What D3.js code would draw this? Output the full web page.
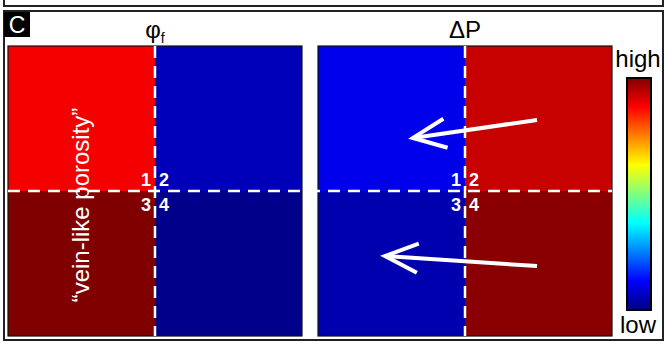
<!DOCTYPE html>
<html>
<head>
<meta charset="utf-8">
<script src="https://cdn.jsdelivr.net/npm/d3@7"></script>
<style>
  body { margin: 0; background: #fff; }
  text { font-family: "Liberation Sans", Arial, sans-serif; }
</style>
</head>
<body>
<svg id="chart" width="666" height="344"></svg>
<script>
// panel titles and quadrant numbers
const panelTitles = ["φ", "ΔP"];
const panelSubs = ["f", ""];
const quadLabels = ["1", "2", "3", "4"];
// values on the colour scale (0 = low, 1 = high), quadrants 1..4
const phiValues = [0.885, 0.055, 1.0, 0.01];
const dpValues = [0.105, 0.93, 0.045, 0.99];
// flow arrows in the dP panel (fractions of panel width / height)
const arrowFrom = [[0.745, 0.255], [0.745, 0.759]];
const arrowTo = [[0.323, 0.317], [0.228, 0.724]];
const barLabels = ["high", "low"];

let holder = d3.select("#chart");
let jet = d3.scaleLinear()
	.domain([0, 0.125, 0.375, 0.625, 0.875, 1])
	.range(["#000080", "#0000ff", "#00ffff", "#ffff00", "#ff0000", "#800000"]);

// frame lines
holder.append("path")
	.attr("d", "M4,0V6H663V0")
	.attr("fill", "none").attr("stroke", "#222").attr("stroke-width", 2);
holder.append("rect")
	.attr("x", 4).attr("y", 11).attr("width", 659).attr("height", 329)
	.attr("fill", "none").attr("stroke", "#222").attr("stroke-width", 2);
holder.append("rect")
	.attr("x", 4).attr("y", 12).attr("width", 26).attr("height", 25)
	.attr("fill", "#000");
holder.append("text")
	.attr("x", 17).attr("y", 33).attr("text-anchor", "middle")
	.attr("fill", "#fff").style("font-size", "23px").text("C");

let panels = [
	{title: panelTitles[0], sub: panelSubs[0], values: phiValues, x0: 8, x1: 302},
	{title: panelTitles[1], sub: panelSubs[1], values: dpValues, x0: 318, x1: 612}
];
let y0 = 46, y1 = 336;

panels.forEach(function(p, pi){
	let xScale = d3.scaleLinear().domain([0, 1]).range([p.x0, p.x1]);
	let yScale = d3.scaleLinear().domain([0, 1]).range([y0, y1]);
	let g = holder.append("g");

	g.selectAll("rect.cell")
		.data(p.values)
		.enter()
		.append("rect")
		.attr("class", "cell")
		.attr("x", (d, i) => xScale((i % 2) * 0.5))
		.attr("y", (d, i) => yScale(Math.floor(i / 2) * 0.5))
		.attr("width", xScale(0.5) - xScale(0))
		.attr("height", yScale(0.5) - yScale(0))
		.attr("fill", d => jet(d));

	g.append("rect")
		.attr("x", xScale(0)).attr("y", yScale(0))
		.attr("width", xScale(1) - xScale(0)).attr("height", yScale(1) - yScale(0))
		.attr("fill", "none").attr("stroke", "#111").attr("stroke-width", 1.2);

	// vertical dashed divider
	g.append("line")
		.attr("x1", xScale(0.5)).attr("x2", xScale(0.5))
		.attr("y1", yScale(0)).attr("y2", yScale(1))
		.attr("stroke", "#fff").attr("stroke-width", 2.5)
		.attr("stroke-dasharray", "12,8");

	// title
	let t = g.append("text")
		.attr("x", xScale(0.5)).attr("y", 38)
		.attr("text-anchor", "middle")
		.style("font-size", "24px").attr("fill", "#000")
		.text(p.title);
	if (p.sub){
		t.append("tspan").attr("dy", 5).style("font-size", "14px").text(p.sub);
	}

	// quadrant numbers
	let cx = xScale(0.5), cy = yScale(0.5);
	g.selectAll("text.quad")
		.data(quadLabels)
		.enter()
		.append("text")
		.attr("class", "quad")
		.attr("x", (d, i) => i % 2 ? cx + 4 : cx - 4)
		.attr("y", (d, i) => i < 2 ? cy - 5 : cy + 20)
		.attr("text-anchor", (d, i) => i % 2 ? "start" : "end")
		.attr("fill", "#fff")
		.style("font-size", "18px").style("font-weight", "bold")
		.text(d => d);

	if (pi == 0){
		g.append("text")
			.attr("transform", "translate(" + 89 + "," + 205 + ") rotate(-90)")
			.attr("text-anchor", "middle")
			.attr("fill", "#fff")
			.style("font-size", "24px")
			.text("\u201cvein-like porosity\u201d");
	} else {
		let arrows = g.selectAll("g.arrow")
			.data(arrowFrom.map((f, i) => [f, arrowTo[i]]))
			.enter()
			.append("g")
			.attr("class", "arrow");
		arrows.append("line")
			.attr("x1", d => xScale(d[0][0])).attr("y1", d => yScale(d[0][1]))
			.attr("x2", d => xScale(d[1][0])).attr("y2", d => yScale(d[1][1]))
			.attr("stroke", "#fff").attr("stroke-width", 4);
		arrows.append("path")
			.attr("d", function(d){
				let ax = xScale(d[1][0]), ay = yScale(d[1][1]);
				let ang = Math.atan2(yScale(d[0][1]) - ay, xScale(d[0][0]) - ax);
				let len = 36, spread = 0.42;
				let p1 = [ax + len * Math.cos(ang - spread), ay + len * Math.sin(ang - spread)];
				let p2 = [ax + len * Math.cos(ang + spread), ay + len * Math.sin(ang + spread)];
				return "M" + p1 + "L" + ax + "," + ay + "L" + p2;
			})
			.attr("fill", "none").attr("stroke", "#fff").attr("stroke-width", 4)
			.attr("stroke-linejoin", "miter");
	}
});

// horizontal dashed divider across both panels
holder.append("line")
	.attr("x1", 8).attr("x2", 612)
	.attr("y1", (y0 + y1) / 2).attr("y2", (y0 + y1) / 2)
	.attr("stroke", "#fff").attr("stroke-width", 2.5)
	.attr("stroke-dasharray", "12,8");

// colour bar
let cbY = d3.scaleLinear().domain([1, 0]).range([78, 310]);
let defs = holder.append("defs");
let grad = defs.append("linearGradient")
	.attr("id", "jetGrad")
	.attr("x1", 0).attr("y1", 1).attr("x2", 0).attr("y2", 0);
grad.selectAll("stop")
	.data(jet.domain())
	.enter()
	.append("stop")
	.attr("offset", d => d)
	.attr("stop-color", d => jet(d));
holder.append("rect")
	.attr("x", 627).attr("y", cbY(1))
	.attr("width", 24).attr("height", cbY(0) - cbY(1))
	.attr("fill", "url(#jetGrad)")
	.attr("stroke", "#000").attr("stroke-width", 2);
holder.selectAll("text.cb")
	.data(barLabels)
	.enter()
	.append("text")
	.attr("class", "cb")
	.attr("x", 638)
	.attr("y", (d, i) => i == 0 ? 67 : 333)
	.attr("text-anchor", "middle")
	.style("font-size", "24px")
	.attr("fill", "#000")
	.text(d => d);
</script>
</body>
</html>
